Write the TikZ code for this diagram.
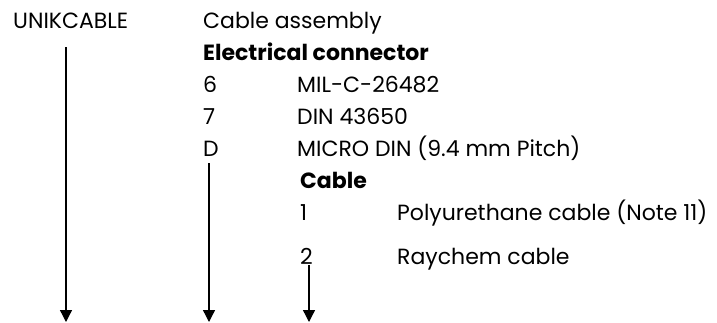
\documentclass[tikz,border=0pt]{standalone}
\usepackage{fontspec}
\setmainfont{Poppins}
\usetikzlibrary{arrows.meta, positioning}

\begin{document}
\begin{tikzpicture}[
    x=1pt, y=-1pt,
    code/.style={anchor=base west, inner sep=0pt, font=\fontsize{22}{26}\selectfont},
    heading/.style={code, font=\fontsize{22}{26}\selectfont\bfseries},
    arrow/.style={-{Triangle[length=12pt,width=12pt]}, line width=1.3pt}
]
\useasboundingbox (0,0) rectangle (717,322);

% Part number
\node[code] (unik) at (13,28) {UNIKCABLE};
\node[code] (assembly) at (203,28) {Cable assembly};

% Electrical connector
\node[heading] (connector) at (203,60) {Electrical connector};
\node[code] (codesix) at (203,92) {6};
\node[code] (milc) at (297,92) {MIL-C-26482};
\node[code] (codeseven) at (203,124) {7};
\node[code] (din) at (297,124) {DIN 43650};
\node[code] (coded) at (203,156) {D};
\node[code] (microdin) at (297,156) {MICRO DIN (9.4 mm Pitch)};

% Cable
\node[heading] (cable) at (300,188) {Cable};
\node[code] (codeone) at (300,220) {1};
\node[code] (polyurethane) at (397,220) {Polyurethane cable (Note 11)};
\node[code] (codetwo) at (300,264) {2};
\node[code] (raychem) at (397,264) {Raychem cable};

% Arrows
\coordinate (endunik) at (66,322);
\coordinate (endconnector) at (209,322);
\coordinate (endcable) at (309,322);
\draw[arrow] (unik.base -| endunik) ++(0,19) -- (endunik);
\draw[arrow] (coded.base -| endconnector) ++(0,7) -- (endconnector);
\draw[arrow] (codetwo.base -| endcable) ++(0,1) -- (endcable);

\end{tikzpicture}
\end{document}
